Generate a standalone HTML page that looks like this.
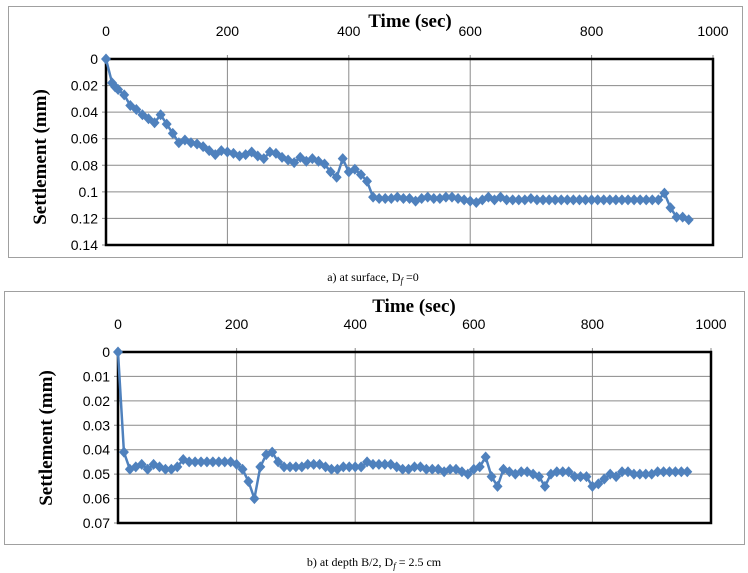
<!DOCTYPE html>
<html><head><meta charset="utf-8"><style>
body{margin:0;background:#fff;width:748px;height:573px;overflow:hidden}
svg{display:block}
.sans{font-family:"Liberation Sans",sans-serif}
.serif{font-family:"Liberation Serif",serif}
</style></head><body>
<svg id="s" width="748" height="573"></svg>
<script>
const xTicks=[0,200,400,600,800,1000];
const yTicksA=[0,0.02,0.04,0.06,0.08,0.1,0.12,0.14];
const yLabelsA=["0","0.02","0.04","0.06","0.08","0.1","0.12","0.14"];
const yTicksB=[0,0.01,0.02,0.03,0.04,0.05,0.06,0.07];
const yLabelsB=["0","0.01","0.02","0.03","0.04","0.05","0.06","0.07"];
const timeA=[0,10,15,20,30,40,50,60,70,80,90,100,110,120,130,140,150,160,170,180,190,200,210,220,230,240,250,260,270,280,290,300,310,320,330,340,350,360,370,380,390,400,410,420,430,440,450,460,470,480,490,500,510,520,530,540,550,560,570,580,590,600,610,620,630,640,650,660,670,680,690,700,710,720,730,740,750,760,770,780,790,800,810,820,830,840,850,860,870,880,890,900,910,920,930,940,950,960];
const settleA=[0,0.018,0.021,0.023,0.027,0.035,0.038,0.042,0.045,0.048,0.042,0.049,0.056,0.063,0.061,0.063,0.064,0.066,0.069,0.072,0.069,0.070,0.071,0.073,0.072,0.070,0.073,0.075,0.070,0.071,0.074,0.076,0.078,0.074,0.077,0.075,0.077,0.079,0.085,0.089,0.075,0.085,0.083,0.087,0.092,0.104,0.105,0.105,0.105,0.104,0.105,0.105,0.107,0.105,0.104,0.105,0.105,0.104,0.104,0.105,0.106,0.107,0.108,0.106,0.104,0.106,0.104,0.106,0.106,0.106,0.106,0.105,0.106,0.106,0.106,0.106,0.106,0.106,0.106,0.106,0.106,0.106,0.106,0.106,0.106,0.106,0.106,0.106,0.106,0.106,0.106,0.106,0.106,0.101,0.112,0.119,0.119,0.121];
const timeB=[0,10,20,30,40,50,60,70,80,90,100,110,120,130,140,150,160,170,180,190,200,210,220,230,240,250,260,270,280,290,300,310,320,330,340,350,360,370,380,390,400,410,420,430,440,450,460,470,480,490,500,510,520,530,540,550,560,570,580,590,600,610,620,630,640,650,660,670,680,690,700,710,720,730,740,750,760,770,780,790,800,810,820,830,840,850,860,870,880,890,900,910,920,930,940,950,960];
const settleB=[0,0.041,0.048,0.047,0.046,0.048,0.046,0.047,0.048,0.048,0.047,0.044,0.045,0.045,0.045,0.045,0.045,0.045,0.045,0.045,0.046,0.048,0.053,0.060,0.047,0.042,0.041,0.045,0.047,0.047,0.047,0.047,0.046,0.046,0.046,0.047,0.048,0.048,0.047,0.047,0.047,0.047,0.045,0.046,0.046,0.046,0.046,0.047,0.048,0.048,0.047,0.047,0.048,0.048,0.048,0.049,0.048,0.048,0.049,0.050,0.048,0.047,0.043,0.051,0.055,0.048,0.049,0.050,0.049,0.049,0.050,0.051,0.055,0.050,0.049,0.049,0.049,0.051,0.051,0.051,0.055,0.054,0.052,0.050,0.051,0.049,0.049,0.050,0.050,0.050,0.050,0.049,0.049,0.049,0.049,0.049,0.049];

const NS="http://www.w3.org/2000/svg";
const svg=document.getElementById('s');
function mk(tag,at,parent){const e=document.createElementNS(NS,tag);for(const k in at)e.setAttribute(k,at[k]);(parent||svg).appendChild(e);return e;}

function chart(cfg){
  const g=mk('g',{});
  
  
  const fr=mk('rect',{x:cfg.fx,y:cfg.fy,width:cfg.fw,height:cfg.fh,fill:'#fff',stroke:'#a0a0a0','stroke-width':1},g);
  
  
  const X=v=>cfg.x0+(cfg.x1-cfg.x0)*v/1000;
  const ymax=cfg.yt[cfg.yt.length-1];
  const Y=v=>cfg.y0+(cfg.y1-cfg.y0)*v/ymax;
  xTicks.forEach(t=>{
    const l=mk('line',{x1:X(t),x2:X(t),y1:cfg.y0-4,y2:cfg.y1,stroke:'#8a8a8a','stroke-width':1},g);
    
    
    const tx=mk('text',{x:X(t),y:cfg.y0-23,'font-size':14,'text-anchor':'middle',fill:'#000',class:'sans'},g);
    tx.textContent=t;
    
    
  });
  cfg.yt.forEach((t,i)=>{
    const l=mk('line',{x1:cfg.x0-4,x2:cfg.x1,y1:Y(t),y2:Y(t),stroke:'#8a8a8a','stroke-width':1},g);
    
    
    const tx=mk('text',{x:cfg.x0-8,y:Y(t)+5,'font-size':14,'text-anchor':'end',fill:'#000',class:'sans'},g);
    tx.textContent=cfg.yl[i];
    
    
  });
  const pb=mk('rect',{x:cfg.x0,y:cfg.y0,width:cfg.x1-cfg.x0,height:cfg.y1-cfg.y0,fill:'none',stroke:'#000','stroke-width':2.5},g);
  
  
  const pts=cfg.t.map((t,i)=>[X(t),Y(cfg.v[i])]);
  const pl=mk('polyline',{points:pts.map(p=>p.join(',')).join(' '),fill:'none',stroke:'#4F81BD','stroke-width':2.5},g);
  
  
  pts.forEach(p=>{
    const d=mk('path',{d:`M${p[0]},${p[1]-5.5}L${p[0]+5},${p[1]}L${p[0]},${p[1]+5.5}L${p[0]-5},${p[1]}Z`,fill:'#4F81BD'},g);
    
    
  });
  const xt=mk('text',{x:cfg.xtX,y:cfg.xtY,'font-size':19,'font-weight':'bold','text-anchor':'middle',class:'serif'},g);
  xt.textContent='Time (sec)';
  
  
  const yt=mk('text',{x:0,y:0,'font-size':19,'font-weight':'bold','text-anchor':'middle',class:'serif',transform:`translate(${cfg.ytX},${cfg.ytY}) rotate(-90)`},g);
  yt.textContent='Settlement (mm)';
  
  
  const cp=mk('text',{x:cfg.cx,y:cfg.cy,'font-size':12,'text-anchor':'middle',class:'serif'},svg);
  cp.innerHTML=cfg.cap;
  
  
}
chart({name:'chart-a-surface',fx:8.5,fy:6.5,fw:734,fh:251,x0:106,x1:713,y0:59,y1:245,yt:yTicksA,yl:yLabelsA,t:timeA,v:settleA,xtX:410,xtY:27,ytX:46,ytY:157,cx:373,cy:281,cap:'a) at surface, D<tspan font-style="italic" font-size="9" dy="3">f</tspan><tspan dy="-3"> =0</tspan>',capName:'caption-a'});
chart({name:'chart-b-depth',fx:4.5,fy:291.5,fw:740,fh:253,x0:118,x1:711,y0:352,y1:523,yt:yTicksB,yl:yLabelsB,t:timeB,v:settleB,xtX:414,xtY:312,ytX:52,ytY:438,cx:374,cy:566,cap:'b) at depth B/2, D<tspan font-style="italic" font-size="9" dy="3">f</tspan><tspan dy="-3"> = 2.5 cm</tspan>',capName:'caption-b'});
</script>
</body></html>
